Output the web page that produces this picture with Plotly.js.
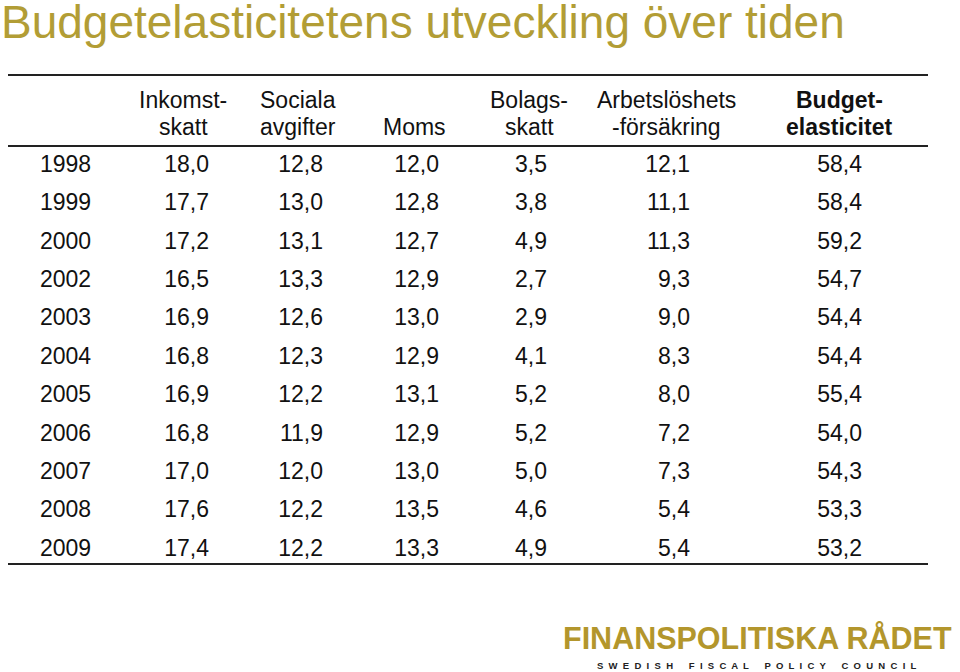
<!DOCTYPE html>
<html>
<head>
<meta charset="utf-8">
<script src="https://cdn.plot.ly/plotly-3.0.1.min.js"></script>
<style>html,body{margin:0;padding:0;background:#fff;}#chart{width:960px;height:672px;}</style>
</head>
<body>
<div id="chart"></div>
<script>
// ---- data ----
const years = ['1998','1999','2000','2002','2003','2004','2005','2006','2007','2008','2009'];
const inkomstskatt = [18.0,17.7,17.2,16.5,16.9,16.8,16.9,16.8,17.0,17.6,17.4];
const socialaAvgifter = [12.8,13.0,13.1,13.3,12.6,12.3,12.2,11.9,12.0,12.2,12.2];
const moms = [12.0,12.8,12.7,12.9,13.0,12.9,13.1,12.9,13.0,13.5,13.3];
const bolagsskatt = [3.5,3.8,4.9,2.7,2.9,4.1,5.2,5.2,5.0,4.6,4.9];
const arbetsloshetsforsakring = [12.1,11.1,11.3,9.3,9.0,8.3,8.0,7.2,7.3,5.4,5.4];
const budgetelasticitet = [58.4,58.4,59.2,54.7,54.4,54.4,55.4,54.0,54.3,53.3,53.2];
const headerTop = ['Inkomst-','Sociala','','Bolags-','Arbetslöshets','<b>Budget-</b>'];
const headerBottom = ['skatt','avgifter','Moms','skatt','-försäkring','<b>elasticitet</b>'];
const titleText = 'Budgetelasticitetens utveckling över tiden';
const logoText = 'FINANSPOLITISKA RÅDET';
const logoSubWords = ['SWEDISH','FISCAL','POLICY','COUNCIL'];

// ---- layout constants (positions in x-axis units = pixels) ----
const YEAR_X = 40;
const COL_RIGHT = [209, 323, 439, 547, 690, 862];
const COL_CENTER = [183, 298, 414, 529, 666, 839];
const H = 672;
const ROW0 = 166, ROWSTEP = 38.4;
const FONT = 'Arial, "Liberation Sans", Helvetica, sans-serif';
const TXT = '#111111';

const fmt = v => v.toFixed(1).replace('.', ',');
const series = [inkomstskatt, socialaAvgifter, moms, bolagsskatt, arbetsloshetsforsakring, budgetelasticitet];

const traces = [];
traces.push({
  type: 'scatter', mode: 'text', x: years.map(() => YEAR_X), y: years,
  text: years, textposition: 'middle right', hoverinfo: 'skip',
  textfont: {family: FONT, size: 23, color: TXT}, cliponaxis: false, showlegend: false
});
series.forEach((s, i) => {
  traces.push({
    type: 'scatter', mode: 'text', x: s.map(() => COL_RIGHT[i]), y: years,
    text: s.map(fmt), textposition: 'middle left', hoverinfo: 'skip',
    textfont: {family: FONT, size: 23, color: TXT}, cliponaxis: false, showlegend: false
  });
});

const py = px => 1 - px / H;
const annotations = [];
COL_CENTER.forEach((cx, i) => {
  if (headerTop[i]) annotations.push({xref: 'x', yref: 'paper', x: cx, y: py(100), text: headerTop[i], showarrow: false, xanchor: 'center', yanchor: 'middle', font: {family: FONT, size: 23, color: TXT}});
  annotations.push({xref: 'x', yref: 'paper', x: cx, y: py(127), text: headerBottom[i], showarrow: false, xanchor: 'center', yanchor: 'middle', font: {family: FONT, size: 23, color: TXT}});
});
// logo
annotations.push({xref: 'paper', yref: 'paper', x: 954/960, y: py(638), text: '<b>' + logoText + '</b>', showarrow: false, xanchor: 'right', yanchor: 'middle', font: {family: FONT, size: 30.5, color: '#b3962c'}});
const spaced = logoSubWords.map(w => w.split('').join('  ')).join('      ');
annotations.push({xref: 'paper', yref: 'paper', x: 757/960, y: py(665), text: '<b>' + spaced + '</b>', showarrow: false, xanchor: 'center', yanchor: 'middle', font: {family: FONT, size: 9.5, color: '#222222'}});

const lineAt = y => ({type: 'line', xref: 'paper', yref: 'paper', x0: 8/960, x1: 928/960, y0: py(y), y1: py(y), line: {color: '#222222', width: 2}});

const layout = {
  width: 960, height: 672,
  margin: {l: 0, r: 0, t: 0, b: 0},
  paper_bgcolor: '#ffffff', plot_bgcolor: '#ffffff',
  title: {text: titleText, x: 0.001, xanchor: 'left', xref: 'paper', yref: 'container', y: py(22), yanchor: 'middle', font: {family: FONT, size: 46, color: '#b29d35'}},
  xaxis: {range: [0, 960], visible: false, fixedrange: true},
  yaxis: {type: 'category', categoryorder: 'array', categoryarray: years, range: [(H - ROW0) / ROWSTEP, -ROW0 / ROWSTEP], visible: false, fixedrange: true},
  shapes: [lineAt(75), lineAt(146), lineAt(564)],
  annotations: annotations,
  showlegend: false
};

Plotly.newPlot('chart', traces, layout, {displayModeBar: false, staticPlot: true});
</script>
</body>
</html>
